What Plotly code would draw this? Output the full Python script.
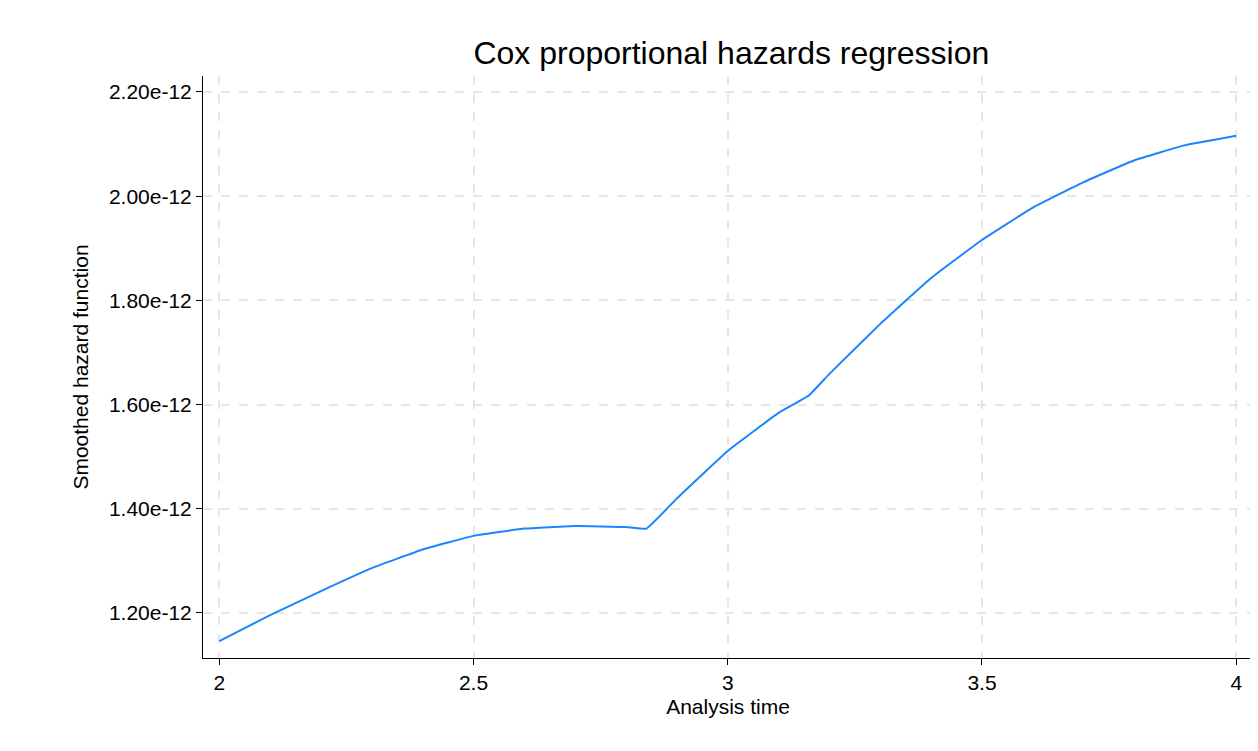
import plotly.graph_objects as go

# smoothed hazard
t = [2.0, 2.1, 2.2, 2.3, 2.4, 2.5, 2.6, 2.7, 2.8, 2.84, 2.9, 3.0, 3.1, 3.16,
     3.2, 3.3, 3.4, 3.5, 3.6, 3.7, 3.8, 3.9, 4.0]
h = [1.146, 1.196, 1.242, 1.286, 1.322, 1.348, 1.362, 1.367, 1.365, 1.362,
     1.42, 1.511, 1.584, 1.618, 1.659, 1.755, 1.843, 1.916, 1.978, 2.027,
     2.069, 2.098, 2.116]
h = [v * 1e-12 for v in h]

ytick_vals = [1.2e-12, 1.4e-12, 1.6e-12, 1.8e-12, 2.0e-12, 2.2e-12]
ytick_text = ["1.20e-12", "1.40e-12", "1.60e-12", "1.80e-12", "2.00e-12", "2.20e-12"]

fig = go.Figure()
fig.add_trace(go.Scatter(x=t, y=h, mode="lines",
                         line=dict(color="#1a85ff", width=2, shape="spline", smoothing=0.3)))

axis_common = dict(showline=True, linecolor="black", linewidth=1, ticks="outside",
                   ticklen=6, tickcolor="black", showgrid=True, gridcolor="#e6e6e6",
                   griddash="dash", gridwidth=1.5, zeroline=False, automargin=False,
                   tickfont=dict(size=21, color="black"))

fig.update_layout(
    width=1258, height=751,
    margin=dict(l=195, r=13, t=68, b=101),
    paper_bgcolor="white", plot_bgcolor="white",
    font=dict(family="Liberation Sans, Arial, sans-serif", color="black"),
    title=dict(text="Cox proportional hazards regression", x=0.575, xanchor="center",
               y=0.94, yanchor="middle", font=dict(size=32)),
    showlegend=False,
    xaxis=dict(range=[1.968, 4.033], tickvals=[2, 2.5, 3, 3.5, 4],
               ticktext=["2", "2.5", "3", "3.5", "4"],
               title=dict(text="Analysis time", font=dict(size=21), standoff=6),
               **axis_common),
    yaxis=dict(range=[1.1136e-12, 2.2307e-12], tickvals=ytick_vals, ticktext=ytick_text,
               title=dict(text="Smoothed hazard function", font=dict(size=21), standoff=14),
               **axis_common),
)

fig.write_html("out.html")
